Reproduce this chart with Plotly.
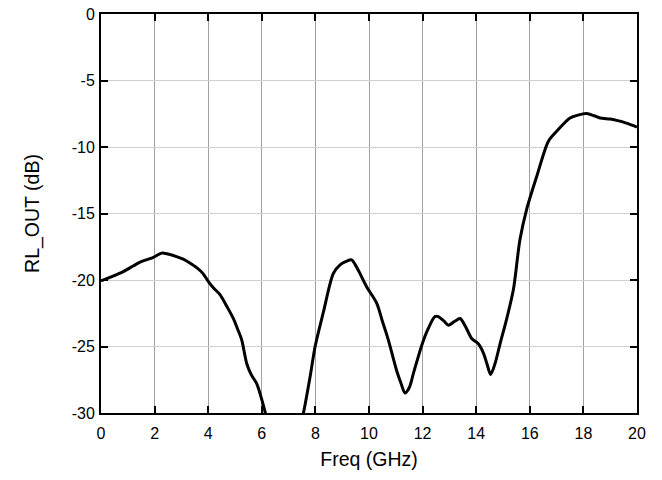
import plotly.graph_objects as go

freq = [0.0, 0.4, 0.83, 1.2, 1.46, 1.95, 2.26, 2.5, 2.82, 3.07, 3.3, 3.57, 3.8, 4.0, 4.2, 4.44, 4.7, 4.94, 5.1, 5.25, 5.44, 5.6, 5.81, 6.0, 6.12,
        6.4, 6.8, 7.2, 7.4, 7.55, 7.8, 7.99, 8.3, 8.67, 8.92, 9.15, 9.35, 9.5, 9.66, 9.91, 10.29, 10.5, 10.72, 11.03, 11.2, 11.34, 11.5, 11.66,
        11.97, 12.2, 12.46, 12.59, 12.8, 12.97, 13.2, 13.4, 13.6, 13.83, 14.08, 14.27, 14.4, 14.54, 14.7, 14.89, 15.14, 15.39, 15.63,
        15.88, 16.26, 16.69, 17.0, 17.5, 17.8, 18.12, 18.4, 18.62, 19.0, 19.24, 19.6, 19.93, 20.0]
rl_out = [-20.07, -19.75, -19.37, -18.95, -18.66, -18.3, -17.98, -18.05, -18.24, -18.43, -18.7, -19.07, -19.5, -20.1, -20.6, -21.1, -22.0, -22.9, -23.7, -24.5, -26.3, -27.1, -27.8, -29.0, -29.9,
          -31.8, -33.5, -32.5, -31.2, -30.03, -27.3, -25.0, -22.4, -19.5, -18.86, -18.6, -18.49, -18.9, -19.5, -20.5, -21.75, -23.1, -24.5, -26.8, -27.8, -28.5, -28.1, -27.0,
          -24.9, -23.7, -22.75, -22.75, -23.1, -23.4, -23.1, -22.9, -23.5, -24.4, -24.8, -25.5, -26.3, -27.1, -26.3, -24.8, -22.9, -20.7, -17.0,
          -14.7, -12.2, -9.58, -8.82, -7.82, -7.6, -7.49, -7.65, -7.82, -7.9, -8.0, -8.2, -8.45, -8.5]

x_ticks = [0, 2, 4, 6, 8, 10, 12, 14, 16, 18, 20]
y_ticks = [0, -5, -10, -15, -20, -25, -30]
y_tick_text = ["0", "-5", "-10", "-15", "-20", "-25", "-30"]

fig = go.Figure()
fig.add_trace(go.Scatter(x=freq, y=rl_out, mode="lines",
                         line=dict(color="black", width=3, shape="spline", smoothing=0.8),
                         showlegend=False))

font = dict(family="Liberation Sans, Arial, sans-serif", color="black")
fig.update_layout(
    width=662, height=480,
    margin=dict(l=101, r=25, t=14, b=67),
    paper_bgcolor="white", plot_bgcolor="white",
    font=dict(**font, size=16),
)
fig.update_xaxes(range=[0, 20], tickvals=x_ticks, ticktext=[str(v) for v in x_ticks],
                 showgrid=True, gridcolor="#a0a0a0", gridwidth=1, automargin=False,
                 showline=True, linecolor="black", linewidth=2, mirror="ticks",
                 ticks="inside", ticklen=7, tickwidth=2, tickcolor="black",
                 tickfont=dict(size=16), zeroline=False, ticklabelstandoff=5,
                 title=dict(text="Freq (GHz)", font=dict(size=19.5), standoff=11))
fig.update_yaxes(range=[-30, 0], tickvals=y_ticks, ticktext=y_tick_text,
                 showgrid=True, gridcolor="#d0d0d0", gridwidth=1, automargin=False,
                 showline=True, linecolor="black", linewidth=2, mirror="ticks",
                 ticks="inside", ticklen=7, tickwidth=2, tickcolor="black",
                 tickfont=dict(size=16), zeroline=False, ticklabelstandoff=1,
                 title=dict(text="RL_OUT (dB)", font=dict(size=19.5), standoff=27))

fig.write_html("out.html")
